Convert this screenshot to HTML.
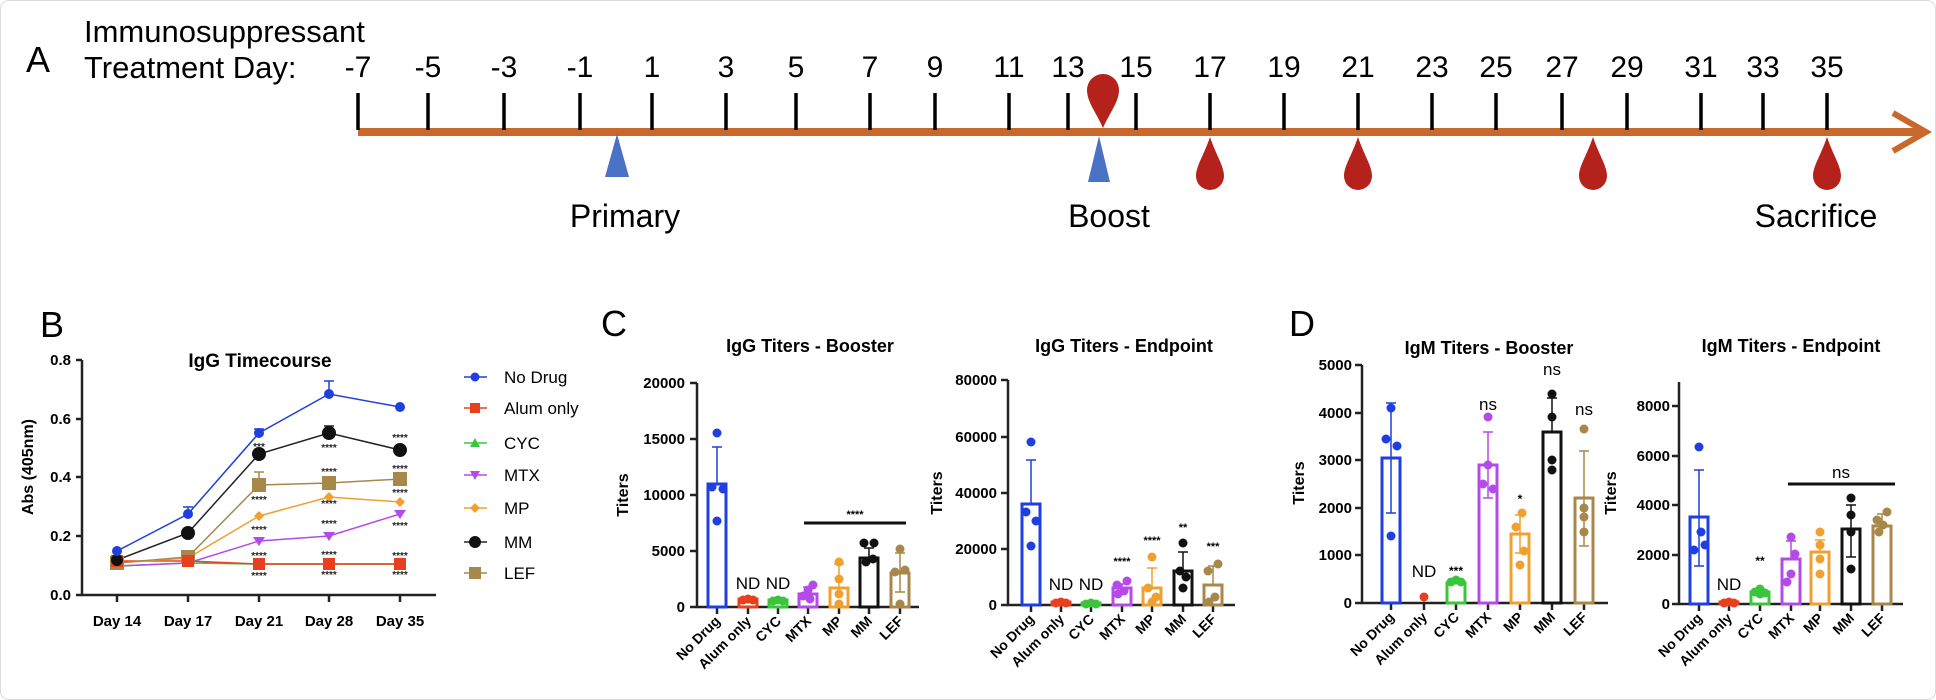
<!DOCTYPE html>
<html><head><meta charset="utf-8"><style>
html,body{margin:0;padding:0;background:#fff;}
svg{display:block;font-family:"Liberation Sans",Arial,sans-serif;}
.b{font-weight:bold;}
</style></head><body>
<svg width="1936" height="700" viewBox="0 0 1936 700" xmlns="http://www.w3.org/2000/svg">
<rect x="0.5" y="0.5" width="1935" height="699" rx="8" fill="#fff" stroke="#dcdcdc"/>

<!-- Panel A -->
<text x="26" y="72" font-size="36">A</text>
<text x="84" y="42" font-size="31">Immunosuppressant</text>
<text x="84" y="78" font-size="31">Treatment Day:</text>
<g font-size="30" text-anchor="middle">
<text x="358" y="77">-7</text><text x="428" y="77">-5</text><text x="504" y="77">-3</text><text x="580" y="77">-1</text>
<text x="652" y="77">1</text><text x="726" y="77">3</text><text x="796" y="77">5</text><text x="870" y="77">7</text>
<text x="935" y="77">9</text><text x="1009" y="77">11</text><text x="1068" y="77">13</text><text x="1136" y="77">15</text>
<text x="1210" y="77">17</text><text x="1284" y="77">19</text><text x="1358" y="77">21</text><text x="1432" y="77">23</text>
<text x="1496" y="77">25</text><text x="1562" y="77">27</text><text x="1627" y="77">29</text><text x="1701" y="77">31</text>
<text x="1763" y="77">33</text><text x="1827" y="77">35</text>
</g>
<line x1="358" y1="132" x2="1920" y2="132" stroke="#c8682a" stroke-width="8"/>
<polyline points="1893,113 1926,132 1893,151" fill="none" stroke="#c8682a" stroke-width="6"/>
<g stroke="#000" stroke-width="3.5">
<line x1="358" y1="93" x2="358" y2="130"/><line x1="428" y1="93" x2="428" y2="130"/><line x1="504" y1="93" x2="504" y2="130"/><line x1="580" y1="93" x2="580" y2="130"/>
<line x1="652" y1="93" x2="652" y2="130"/><line x1="726" y1="93" x2="726" y2="130"/><line x1="796" y1="93" x2="796" y2="130"/><line x1="870" y1="93" x2="870" y2="130"/>
<line x1="935" y1="93" x2="935" y2="130"/><line x1="1009" y1="93" x2="1009" y2="130"/><line x1="1068" y1="93" x2="1068" y2="130"/><line x1="1136" y1="93" x2="1136" y2="130"/>
<line x1="1210" y1="93" x2="1210" y2="130"/><line x1="1284" y1="93" x2="1284" y2="130"/><line x1="1358" y1="93" x2="1358" y2="130"/><line x1="1432" y1="93" x2="1432" y2="130"/>
<line x1="1496" y1="93" x2="1496" y2="130"/><line x1="1562" y1="93" x2="1562" y2="130"/><line x1="1627" y1="93" x2="1627" y2="130"/><line x1="1701" y1="93" x2="1701" y2="130"/>
<line x1="1763" y1="93" x2="1763" y2="130"/><line x1="1827" y1="93" x2="1827" y2="130"/>
</g>
<!-- triangles -->
<polygon points="617,134 605,177 629,177" fill="#4a72c4"/>
<polygon points="1099,136 1088,182 1110,182" fill="#4a72c4"/>
<!-- drops -->
<path d="M1103,128 C1096,112 1087,102 1087,90 A16,16 0 0 1 1119,90 C1119,102 1110,112 1103,128Z" fill="#b5221c"/>
<g fill="#b5221c">
<path d="M1210,137 C1204,155 1196,166 1196,176 A14,14 0 0 0 1224,176 C1224,166 1216,155 1210,137Z"/>
<path d="M1358,137 C1352,155 1344,166 1344,176 A14,14 0 0 0 1372,176 C1372,166 1364,155 1358,137Z"/>
<path d="M1593,137 C1587,155 1579,166 1579,176 A14,14 0 0 0 1607,176 C1607,166 1599,155 1593,137Z"/>
<path d="M1827,137 C1821,155 1813,166 1813,176 A14,14 0 0 0 1841,176 C1841,166 1833,155 1827,137Z"/>
</g>
<g font-size="32" text-anchor="middle">
<text x="625" y="227">Primary</text><text x="1109" y="227">Boost</text><text x="1816" y="227">Sacrifice</text>
</g>

<!-- Panel B -->
<text x="40" y="337" font-size="36">B</text>
<text x="260" y="367" font-size="19" class="b" text-anchor="middle">IgG Timecourse</text>
<g stroke="#222" stroke-width="2.5" fill="none">
<polyline points="82,360 82,595 436,595"/>
<line x1="76" y1="360" x2="82" y2="360"/><line x1="76" y1="419" x2="82" y2="419"/><line x1="76" y1="477" x2="82" y2="477"/><line x1="76" y1="536" x2="82" y2="536"/><line x1="76" y1="595" x2="82" y2="595"/>
<line x1="117" y1="595" x2="117" y2="602"/><line x1="188" y1="595" x2="188" y2="602"/><line x1="259" y1="595" x2="259" y2="602"/><line x1="329" y1="595" x2="329" y2="602"/><line x1="400" y1="595" x2="400" y2="602"/>
</g>
<g font-size="15" class="b" text-anchor="end">
<text x="71" y="365">0.8</text><text x="71" y="424">0.6</text><text x="71" y="482">0.4</text><text x="71" y="541">0.2</text><text x="71" y="600">0.0</text>
</g>
<text transform="translate(33,467) rotate(-90)" font-size="16" class="b" text-anchor="middle">Abs (405nm)</text>
<g font-size="15" class="b" text-anchor="middle">
<text x="117" y="626">Day 14</text><text x="188" y="626">Day 17</text><text x="259" y="626">Day 21</text><text x="329" y="626">Day 28</text><text x="400" y="626">Day 35</text>
</g>
<!-- series -->
<polyline points="117,566 188,563 259,564 329,564 400,564" fill="none" stroke="#3cc43c" stroke-width="1.5"/>
<polyline points="117,561 188,561 259,564 329,564 400,564" fill="none" stroke="#e8401f" stroke-width="1.5"/>
<polyline points="117,566 188,563 259,541 329,536 400,514" fill="none" stroke="#b44be8" stroke-width="1.5"/>
<polyline points="117,563 188,558 259,516 329,497 400,502" fill="none" stroke="#f0a030" stroke-width="1.5"/>
<polyline points="117,563 188,557 259,485 329,483 400,479" fill="none" stroke="#a8874a" stroke-width="1.5"/>
<polyline points="117,560 188,533 259,454 329,433 400,450" fill="none" stroke="#222" stroke-width="1.5"/>
<polyline points="117,551 188,514 259,433 329,394 400,407" fill="none" stroke="#1f3fe0" stroke-width="1.5"/>
<g stroke-width="1.5" fill="none">
<path d="M188,514V507M183,507H193M259,433V429M254,429H264M329,394V381M324,381H334" stroke="#1f3fe0"/>
<path d="M329,433V426M324,426H334" stroke="#222"/>
<path d="M259,485V472M254,472H264" stroke="#a8874a"/>
</g>
<g fill="#3cc43c"><polygon points="117,561 112,570 122,570"/></g>
<g fill="#b44be8"><polygon points="112,563 122,563 117,570"/><polygon points="183,560 193,560 188,567"/><polygon points="253,537 265,537 259,546"/><polygon points="323,532 335,532 329,541"/><polygon points="394,510 406,510 400,519"/></g>
<g fill="#f0a030"><polygon points="259,511 264,516 259,521 254,516"/><polygon points="329,492 334,497 329,502 324,497"/><polygon points="400,497 405,502 400,507 395,502"/><polygon points="188,553 193,558 188,563 183,558"/></g>
<g fill="#a8874a"><rect x="110" y="556" width="14" height="14"/><rect x="181" y="550" width="14" height="14"/><rect x="252" y="478" width="14" height="14"/><rect x="322" y="476" width="14" height="14"/><rect x="393" y="472" width="14" height="14"/></g>
<g fill="#e8401f"><rect x="111" y="555" width="12" height="12"/><rect x="182" y="555" width="12" height="12"/><rect x="253" y="558" width="12" height="12"/><rect x="323" y="558" width="12" height="12"/><rect x="394" y="558" width="12" height="12"/></g>
<g fill="#111"><circle cx="117" cy="560" r="6"/><circle cx="188" cy="533" r="7"/><circle cx="259" cy="454" r="7"/><circle cx="329" cy="433" r="7"/><circle cx="400" cy="450" r="7"/></g>
<g fill="#1f3fe0"><circle cx="117" cy="551" r="5"/><circle cx="188" cy="514" r="5"/><circle cx="259" cy="433" r="5"/><circle cx="329" cy="394" r="5"/><circle cx="400" cy="407" r="5"/></g>
<g font-size="10" class="b" text-anchor="middle" fill="#222">
<text x="259" y="450">***</text><text x="259" y="503">****</text><text x="259" y="533">****</text><text x="259" y="559">****</text><text x="259" y="579">****</text>
<text x="329" y="451">****</text><text x="329" y="475">****</text><text x="329" y="507">****</text><text x="329" y="527">****</text><text x="329" y="558">****</text><text x="329" y="578">****</text>
<text x="400" y="441">****</text><text x="400" y="472">****</text><text x="400" y="496">****</text><text x="400" y="529">****</text><text x="400" y="559">****</text><text x="400" y="578">****</text>
</g>
<!-- legend -->
<g stroke-width="1.5">
<line x1="464" y1="377" x2="487" y2="377" stroke="#1f3fe0"/><circle cx="475" cy="377" r="4.5" fill="#1f3fe0"/>
<line x1="464" y1="408" x2="487" y2="408" stroke="#e8401f"/><rect x="470" y="403" width="10" height="10" fill="#e8401f"/>
<line x1="464" y1="443" x2="487" y2="443" stroke="#3cc43c"/><polygon points="475,438 470,447 480,447" fill="#3cc43c"/>
<line x1="464" y1="475" x2="487" y2="475" stroke="#b44be8"/><polygon points="470,471 480,471 475,480" fill="#b44be8"/>
<line x1="464" y1="508" x2="487" y2="508" stroke="#f0a030"/><polygon points="475,503 480,508 475,513 470,508" fill="#f0a030"/>
<line x1="464" y1="542" x2="487" y2="542" stroke="#222"/><circle cx="475" cy="542" r="6" fill="#111"/>
<line x1="464" y1="573" x2="487" y2="573" stroke="#a8874a"/><rect x="469" y="567" width="12" height="12" fill="#a8874a"/>
</g>
<g font-size="17">
<text x="504" y="383">No Drug</text><text x="504" y="414">Alum only</text><text x="504" y="449">CYC</text><text x="504" y="481">MTX</text><text x="504" y="514">MP</text><text x="504" y="548">MM</text><text x="504" y="579">LEF</text>
</g>

<!-- Panel C -->
<text x="601" y="336" font-size="36">C</text>
<text x="810" y="352" font-size="18" class="b" text-anchor="middle">IgG Titers - Booster</text>
<text x="1124" y="352" font-size="18" class="b" text-anchor="middle">IgG Titers - Endpoint</text>
<text transform="translate(628,495) rotate(-90)" font-size="16" class="b" text-anchor="middle">Titers</text>
<text transform="translate(942,493) rotate(-90)" font-size="16" class="b" text-anchor="middle">Titers</text>
<g stroke="#222" stroke-width="2.5" fill="none">
<polyline points="697,383 697,607 919,607"/>
<path d="M690,383H697M690,439H697M690,495H697M690,551H697M690,607H697"/>
<path d="M717,607v7M748,607v7M778,607v7M808,607v7M839,607v7M869,607v7M900,607v7"/>
<polyline points="1008,380 1008,605 1235,605"/>
<path d="M1001,380H1008M1001,437H1008M1001,493H1008M1001,549H1008M1001,605H1008"/>
<path d="M1031,605v7M1061,605v7M1091,605v7M1122,605v7M1152,605v7M1183,605v7M1213,605v7"/>
</g>
<g font-size="15" class="b" text-anchor="end">
<text x="685" y="388">20000</text><text x="685" y="444">15000</text><text x="685" y="500">10000</text><text x="685" y="556">5000</text><text x="685" y="612">0</text>
<text x="997" y="385">80000</text><text x="997" y="442">60000</text><text x="997" y="498">40000</text><text x="997" y="554">20000</text><text x="997" y="610">0</text>
</g>
<g font-size="14" class="b" text-anchor="end">
<text transform="translate(721,622) rotate(-45)">No Drug</text><text transform="translate(752,622) rotate(-45)">Alum only</text><text transform="translate(782,622) rotate(-45)">CYC</text><text transform="translate(812,622) rotate(-45)">MTX</text><text transform="translate(843,622) rotate(-45)">MP</text><text transform="translate(873,622) rotate(-45)">MM</text><text transform="translate(904,622) rotate(-45)">LEF</text>
<text transform="translate(1035,620) rotate(-45)">No Drug</text><text transform="translate(1065,620) rotate(-45)">Alum only</text><text transform="translate(1095,620) rotate(-45)">CYC</text><text transform="translate(1126,620) rotate(-45)">MTX</text><text transform="translate(1156,620) rotate(-45)">MP</text><text transform="translate(1187,620) rotate(-45)">MM</text><text transform="translate(1217,620) rotate(-45)">LEF</text>
</g>
<!-- C booster bars -->
<g fill="none" stroke-width="3">
<g stroke="#1f3fe0"><rect x="708" y="484" width="18" height="123"/><path d="M717,484V447M712,447H722" stroke-width="1.5"/></g>
<g stroke="#e8401f"><rect x="739" y="599" width="18" height="8"/></g>
<g stroke="#3cc43c"><rect x="769" y="600" width="18" height="7"/></g>
<g stroke="#b44be8"><rect x="799" y="594" width="18" height="13"/><path d="M808,594V587M803,587H813" stroke-width="1.5"/></g>
<g stroke="#f0a030"><rect x="830" y="588" width="18" height="19"/><path d="M839,588V564M834,564H844" stroke-width="1.5"/></g>
<g stroke="#111"><rect x="860" y="558" width="18" height="49"/><path d="M869,558V548M864,548H874" stroke-width="1.5"/></g>
<g stroke="#a8874a"><rect x="891" y="573" width="18" height="34"/><path d="M900,573V553M895,553H905M900,573V592M895,592H905" stroke-width="1.5"/></g>
</g>
<g fill="#1f3fe0"><circle cx="717" cy="433" r="4.5"/><circle cx="712" cy="487" r="4.5"/><circle cx="723" cy="489" r="4.5"/><circle cx="717" cy="521" r="4.5"/></g>
<g fill="#e8401f"><circle cx="743" cy="600" r="4.5"/><circle cx="748" cy="599" r="4.5"/><circle cx="753" cy="600" r="4.5"/></g>
<g fill="#3cc43c"><circle cx="773" cy="601" r="4.5"/><circle cx="778" cy="600" r="4.5"/><circle cx="783" cy="601" r="4.5"/></g>
<g fill="#b44be8"><circle cx="813" cy="585" r="4.5"/><circle cx="808" cy="590" r="4.5"/><circle cx="803" cy="596" r="4.5"/><circle cx="810" cy="599" r="4.5"/></g>
<g fill="#f0a030"><circle cx="839" cy="562" r="4.5"/><circle cx="839" cy="579" r="4.5"/><circle cx="839" cy="594" r="4.5"/><circle cx="839" cy="604" r="4.5"/></g>
<g fill="#111"><circle cx="864" cy="543" r="4.5"/><circle cx="874" cy="543" r="4.5"/><circle cx="866" cy="562" r="4.5"/><circle cx="873" cy="559" r="4.5"/></g>
<g fill="#a8874a"><circle cx="900" cy="549" r="4.5"/><circle cx="905" cy="570" r="4.5"/><circle cx="895" cy="572" r="4.5"/><circle cx="900" cy="604" r="4.5"/></g>
<g font-size="17" text-anchor="middle"><text x="748" y="589">ND</text><text x="778" y="589">ND</text></g>
<line x1="804" y1="523" x2="906" y2="523" stroke="#111" stroke-width="3"/>
<text x="855" y="518" font-size="11" class="b" text-anchor="middle">****</text>
<!-- C endpoint bars -->
<g fill="none" stroke-width="3">
<g stroke="#1f3fe0"><rect x="1022" y="504" width="18" height="101"/><path d="M1031,504V460M1026,460H1036" stroke-width="1.5"/></g>
<g stroke="#e8401f"><rect x="1052" y="602" width="18" height="3"/></g>
<g stroke="#3cc43c"><rect x="1082" y="603" width="18" height="2"/></g>
<g stroke="#b44be8"><rect x="1113" y="588" width="18" height="17"/><path d="M1122,588V584M1117,584H1127" stroke-width="1.5"/></g>
<g stroke="#f0a030"><rect x="1143" y="588" width="18" height="17"/><path d="M1152,588V568M1147,568H1157" stroke-width="1.5"/></g>
<g stroke="#111"><rect x="1174" y="571" width="18" height="34"/><path d="M1183,571V552M1178,552H1188" stroke-width="1.5"/></g>
<g stroke="#a8874a"><rect x="1204" y="585" width="18" height="20"/><path d="M1213,585V566M1208,566H1218" stroke-width="1.5"/></g>
</g>
<g fill="#1f3fe0"><circle cx="1031" cy="442" r="4.5"/><circle cx="1026" cy="512" r="4.5"/><circle cx="1036" cy="521" r="4.5"/><circle cx="1031" cy="546" r="4.5"/></g>
<g fill="#e8401f"><circle cx="1056" cy="603" r="4.5"/><circle cx="1061" cy="602" r="4.5"/><circle cx="1066" cy="603" r="4.5"/></g>
<g fill="#3cc43c"><circle cx="1086" cy="604" r="4.5"/><circle cx="1091" cy="603" r="4.5"/><circle cx="1096" cy="604" r="4.5"/></g>
<g fill="#b44be8"><circle cx="1127" cy="581" r="4.5"/><circle cx="1117" cy="585" r="4.5"/><circle cx="1124" cy="591" r="4.5"/><circle cx="1118" cy="594" r="4.5"/></g>
<g fill="#f0a030"><circle cx="1152" cy="557" r="4.5"/><circle cx="1148" cy="588" r="4.5"/><circle cx="1156" cy="597" r="4.5"/><circle cx="1152" cy="602" r="4.5"/></g>
<g fill="#111"><circle cx="1183" cy="543" r="4.5"/><circle cx="1180" cy="571" r="4.5"/><circle cx="1186" cy="577" r="4.5"/><circle cx="1183" cy="588" r="4.5"/></g>
<g fill="#a8874a"><circle cx="1218" cy="564" r="4.5"/><circle cx="1208" cy="571" r="4.5"/><circle cx="1215" cy="597" r="4.5"/><circle cx="1209" cy="602" r="4.5"/></g>
<g font-size="17" text-anchor="middle"><text x="1061" y="590">ND</text><text x="1091" y="590">ND</text></g>
<g font-size="11" class="b" text-anchor="middle"><text x="1122" y="565">****</text><text x="1152" y="544">****</text><text x="1183" y="531">**</text><text x="1213" y="550">***</text></g>

<!-- Panel D -->
<text x="1289" y="336" font-size="36">D</text>
<text x="1489" y="354" font-size="18" class="b" text-anchor="middle">IgM Titers - Booster</text>
<text x="1791" y="352" font-size="18" class="b" text-anchor="middle">IgM Titers - Endpoint</text>
<text transform="translate(1304,483) rotate(-90)" font-size="16" class="b" text-anchor="middle">Titers</text>
<text transform="translate(1616,493) rotate(-90)" font-size="16" class="b" text-anchor="middle">Titers</text>
<g stroke="#222" stroke-width="2.5" fill="none">
<polyline points="1362,365 1362,603 1608,603"/>
<path d="M1355,365H1362M1355,413H1362M1355,460H1362M1355,508H1362M1355,555H1362M1355,603H1362"/>
<path d="M1391,603v7M1424,603v7M1456,603v7M1488,603v7M1520,603v7M1552,603v7M1584,603v7"/>
<polyline points="1679,382 1679,604 1903,604"/>
<path d="M1672,406H1679M1672,456H1679M1672,505H1679M1672,555H1679M1672,604H1679"/>
<path d="M1699,604v7M1729,604v7M1760,604v7M1791,604v7M1820,604v7M1851,604v7M1882,604v7"/>
</g>
<g font-size="15" class="b" text-anchor="end">
<text x="1352" y="370">5000</text><text x="1352" y="418">4000</text><text x="1352" y="465">3000</text><text x="1352" y="513">2000</text><text x="1352" y="560">1000</text><text x="1352" y="608">0</text>
<text x="1670" y="411">8000</text><text x="1670" y="461">6000</text><text x="1670" y="510">4000</text><text x="1670" y="560">2000</text><text x="1670" y="609">0</text>
</g>
<g font-size="14" class="b" text-anchor="end">
<text transform="translate(1395,618) rotate(-45)">No Drug</text><text transform="translate(1428,618) rotate(-45)">Alum only</text><text transform="translate(1460,618) rotate(-45)">CYC</text><text transform="translate(1492,618) rotate(-45)">MTX</text><text transform="translate(1524,618) rotate(-45)">MP</text><text transform="translate(1556,618) rotate(-45)">MM</text><text transform="translate(1588,618) rotate(-45)">LEF</text>
<text transform="translate(1703,619) rotate(-45)">No Drug</text><text transform="translate(1733,619) rotate(-45)">Alum only</text><text transform="translate(1764,619) rotate(-45)">CYC</text><text transform="translate(1795,619) rotate(-45)">MTX</text><text transform="translate(1824,619) rotate(-45)">MP</text><text transform="translate(1855,619) rotate(-45)">MM</text><text transform="translate(1886,619) rotate(-45)">LEF</text>
</g>
<!-- D booster -->
<g fill="none" stroke-width="3">
<g stroke="#1f3fe0"><rect x="1382" y="458" width="18" height="145"/><path d="M1391,458V403M1386,403H1396M1391,458V513M1386,513H1396" stroke-width="1.5"/></g>
<g stroke="#3cc43c"><rect x="1447" y="583" width="18" height="20"/></g>
<g stroke="#b44be8"><rect x="1479" y="465" width="18" height="138"/><path d="M1488,465V432M1483,432H1493M1488,465V498M1483,498H1493" stroke-width="1.5"/></g>
<g stroke="#f0a030"><rect x="1511" y="534" width="18" height="69"/><path d="M1520,534V515M1515,515H1525M1520,534V553M1515,553H1525" stroke-width="1.5"/></g>
<g stroke="#111"><rect x="1543" y="432" width="18" height="171"/><path d="M1552,432V398M1547,398H1557" stroke-width="1.5"/></g>
<g stroke="#a8874a"><rect x="1575" y="498" width="18" height="105"/><path d="M1584,498V451M1579,451H1589M1584,498V546M1579,546H1589" stroke-width="1.5"/></g>
</g>
<g fill="#1f3fe0"><circle cx="1391" cy="408" r="4.5"/><circle cx="1386" cy="439" r="4.5"/><circle cx="1397" cy="446" r="4.5"/><circle cx="1391" cy="536" r="4.5"/></g>
<g fill="#e8401f"><circle cx="1424" cy="597" r="4.5"/></g>
<g fill="#3cc43c"><circle cx="1451" cy="582" r="4.5"/><circle cx="1456" cy="580" r="4.5"/><circle cx="1461" cy="582" r="4.5"/></g>
<g fill="#b44be8"><circle cx="1488" cy="417" r="4.5"/><circle cx="1488" cy="465" r="4.5"/><circle cx="1483" cy="484" r="4.5"/><circle cx="1493" cy="489" r="4.5"/></g>
<g fill="#f0a030"><circle cx="1522" cy="513" r="4.5"/><circle cx="1516" cy="527" r="4.5"/><circle cx="1524" cy="551" r="4.5"/><circle cx="1520" cy="565" r="4.5"/></g>
<g fill="#111"><circle cx="1552" cy="394" r="4.5"/><circle cx="1552" cy="417" r="4.5"/><circle cx="1552" cy="460" r="4.5"/><circle cx="1552" cy="470" r="4.5"/></g>
<g fill="#a8874a"><circle cx="1584" cy="429" r="4.5"/><circle cx="1584" cy="508" r="4.5"/><circle cx="1584" cy="517" r="4.5"/><circle cx="1584" cy="532" r="4.5"/></g>
<g font-size="17" text-anchor="middle"><text x="1424" y="577">ND</text><text x="1488" y="410">ns</text><text x="1552" y="375">ns</text><text x="1584" y="415">ns</text></g>
<g font-size="12" class="b" text-anchor="middle"><text x="1456" y="575">***</text><text x="1520" y="503">*</text></g>
<!-- D endpoint -->
<g fill="none" stroke-width="3">
<g stroke="#1f3fe0"><rect x="1690" y="517" width="18" height="87"/><path d="M1699,517V470M1694,470H1704M1699,517V566M1694,566H1704" stroke-width="1.5"/></g>
<g stroke="#e8401f"><rect x="1720" y="602" width="18" height="2"/></g>
<g stroke="#3cc43c"><rect x="1751" y="592" width="18" height="12"/></g>
<g stroke="#b44be8"><rect x="1782" y="559" width="18" height="45"/><path d="M1791,559V541M1786,541H1796" stroke-width="1.5"/></g>
<g stroke="#f0a030"><rect x="1811" y="552" width="18" height="52"/><path d="M1820,552V540M1815,540H1825" stroke-width="1.5"/></g>
<g stroke="#111"><rect x="1842" y="529" width="18" height="75"/><path d="M1851,529V505M1846,505H1856M1851,529V557M1846,557H1856" stroke-width="1.5"/></g>
<g stroke="#a8874a"><rect x="1873" y="526" width="18" height="78"/><path d="M1882,526V514M1877,514H1887" stroke-width="1.5"/></g>
</g>
<g fill="#1f3fe0"><circle cx="1699" cy="447" r="4.5"/><circle cx="1701" cy="532" r="4.5"/><circle cx="1705" cy="545" r="4.5"/><circle cx="1694" cy="550" r="4.5"/></g>
<g fill="#e8401f"><circle cx="1724" cy="603" r="4.5"/><circle cx="1729" cy="602" r="4.5"/><circle cx="1734" cy="603" r="4.5"/></g>
<g fill="#3cc43c"><circle cx="1760" cy="589" r="4.5"/><circle cx="1755" cy="592" r="4.5"/><circle cx="1765" cy="593" r="4.5"/><circle cx="1760" cy="594" r="4.5"/></g>
<g fill="#b44be8"><circle cx="1791" cy="537" r="4.5"/><circle cx="1795" cy="554" r="4.5"/><circle cx="1791" cy="574" r="4.5"/><circle cx="1787" cy="582" r="4.5"/></g>
<g fill="#f0a030"><circle cx="1820" cy="532" r="4.5"/><circle cx="1820" cy="545" r="4.5"/><circle cx="1820" cy="559" r="4.5"/><circle cx="1820" cy="574" r="4.5"/></g>
<g fill="#111"><circle cx="1851" cy="498" r="4.5"/><circle cx="1851" cy="515" r="4.5"/><circle cx="1851" cy="532" r="4.5"/><circle cx="1851" cy="569" r="4.5"/></g>
<g fill="#a8874a"><circle cx="1887" cy="512" r="4.5"/><circle cx="1877" cy="520" r="4.5"/><circle cx="1883" cy="525" r="4.5"/><circle cx="1879" cy="532" r="4.5"/></g>
<text x="1729" y="590" font-size="17" text-anchor="middle">ND</text>
<text x="1760" y="565" font-size="12" class="b" text-anchor="middle">**</text>
<line x1="1788" y1="484" x2="1895" y2="484" stroke="#111" stroke-width="3"/>
<text x="1841" y="478" font-size="17" text-anchor="middle">ns</text>
</svg>
</body></html>
